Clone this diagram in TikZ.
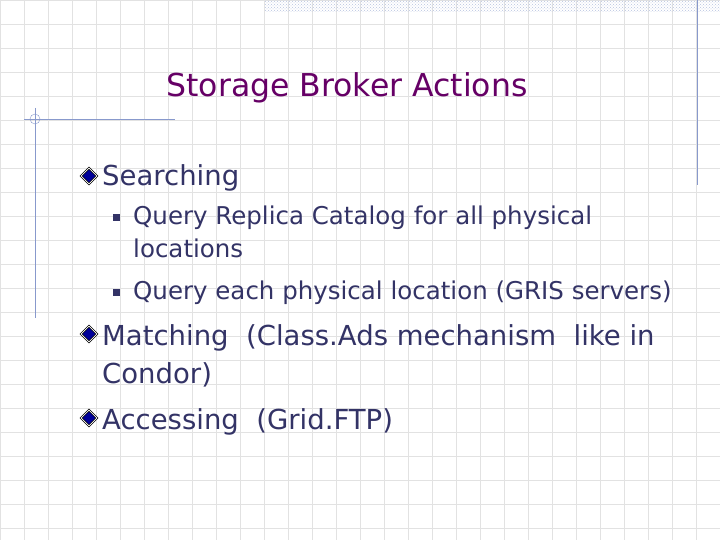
\documentclass[tikz,border=0pt]{standalone}
\usepackage{fontspec}
\setmainfont{DejaVu Sans}
\usetikzlibrary{patterns,shapes.geometric}
\definecolor{txt}{HTML}{333366}
\definecolor{ttl}{HTML}{660066}
\definecolor{gridc}{HTML}{E2E2E2}
\definecolor{linec}{HTML}{8899CC}
\begin{document}
\begin{tikzpicture}[x=1pt,y=-1pt,
  lvl1/.style={anchor=base west,text=txt,font=\fontsize{27.5}{34}\selectfont,inner sep=0},
  lvl2/.style={anchor=base west,text=txt,font=\fontsize{24.5}{28}\selectfont,inner sep=0},
  dia/.style={diamond,draw=black,fill=blue!60!black,inner sep=0,minimum size=16pt,line width=0.6pt,double=white,double distance=0.8pt},
  sq/.style={fill=txt,inner sep=0,minimum size=7pt},
  gridline/.style={gridc,line width=0.6pt}]
\useasboundingbox (0,0) rectangle (720,540);
\fill[white] (0,0) rectangle (720,540);
\foreach \i in {0,24,...,720} \draw[gridline] (\i,0) -- (\i,540);
\foreach \j in {0,24,...,528} \draw[gridline] (0,\j) -- (720,\j);
\fill[pattern=crosshatch dots,pattern color=linec!60] (265,0) rectangle (720,12);
\draw[linec] (697,0) -- (697,185);
\draw[linec] (24,119) -- (175,119);
\draw[linec] (35,108) -- (35,318);
\draw[linec] (35,119) circle (5);
\node[anchor=base,text=ttl,font=\fontsize{31.5}{36}\selectfont,inner sep=0] (title) at (347,97) {Storage Broker Actions};
\node[dia] (b1) at (89,176) {};
\node[lvl1] (t1) at (102,186) {Searching};
\node[sq] (s1) at (116,218) {};
\node[lvl2] (t2) at (133,225) {Query Replica Catalog for all physical};
\node[lvl2] (t3) at (133,258) {locations};
\node[sq] (s2) at (116,292) {};
\node[lvl2] (t4) at (133,299) {Query each physical location (GRIS servers)};
\node[dia] (b2) at (89,334) {};
\node[lvl1] (t5) at (102,345) {Matching\ \ (Class.Ads mechanism\ \ like in};
\node[lvl1] (t6) at (102,383) {Condor)};
\node[dia] (b3) at (89,418) {};
\node[lvl1] (t7) at (102,429) {Accessing\ \ (Grid.FTP)};
\end{tikzpicture}
\end{document}
